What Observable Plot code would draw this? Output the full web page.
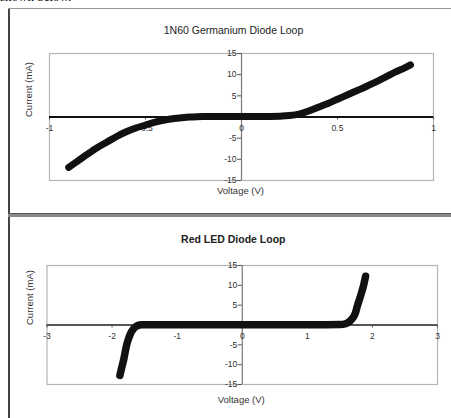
<!DOCTYPE html>
<html>
<head>
<meta charset="utf-8">
<script src="https://cdn.jsdelivr.net/npm/d3@7"></script>
<script src="https://cdn.jsdelivr.net/npm/@observablehq/plot@0.6"></script>
<style>
  html, body { margin: 0; padding: 0; background: #fff; }
  #wrap { position: relative; width: 451px; height: 418px; overflow: hidden; background: #fff; }
  .abs { position: absolute; }
  #chart1 { left: 0; top: 0; }
  #chart2 { left: 0; top: 218px; }
  #lead { left: 0; top: -11px; font: 13px "Liberation Serif", "Times New Roman", serif; color: #000; width: 57px; text-align: right; white-space: nowrap; }
  #bleft { left: 8px; top: 8px; width: 2px; height: 410px; background: #444; }
  #btop { left: 8px; top: 8px; width: 443px; height: 1px; background: #999; }
  #divider { left: 8px; top: 213px; width: 443px; height: 3px; background: #8a8a8a; border-top: 1px solid #555; }
</style>
</head>
<body>
<div id="wrap">
  <div id="lead" class="abs">shown below.</div>
  <div id="chart1" class="abs"></div>
  <div id="chart2" class="abs"></div>
  <div id="bleft" class="abs"></div>
  <div id="btop" class="abs"></div>
  <div id="divider" class="abs"></div>
</div>
<script>
// ---- Data ----
const geVoltage = [-0.90, -0.85, -0.80, -0.75, -0.70, -0.65, -0.60, -0.55, -0.50, -0.45, -0.40, -0.35, -0.30, -0.25, -0.20, -0.10, 0.00, 0.10, 0.20, 0.25, 0.30, 0.35, 0.40, 0.45, 0.50, 0.55, 0.60, 0.65, 0.70, 0.75, 0.80, 0.85, 0.88];
const geCurrent = [-11.9, -10.3, -8.7, -7.2, -5.9, -4.6, -3.5, -2.6, -1.9, -1.2, -0.7, -0.35, -0.1, 0.0, 0.1, 0.1, 0.1, 0.1, 0.2, 0.35, 0.7, 1.4, 2.3, 3.2, 4.2, 5.2, 6.2, 7.2, 8.3, 9.4, 10.6, 11.6, 12.3];

const ledVoltage = [-1.88, -1.85, -1.82, -1.80, -1.78, -1.75, -1.72, -1.69, -1.65, -1.60, -1.55, -1.00, -0.50, 0.00, 0.50, 1.00, 1.50, 1.60, 1.65, 1.70, 1.74, 1.77, 1.80, 1.83, 1.86, 1.895];
const ledCurrent = [-12.7, -10.6, -8.6, -6.9, -5.3, -3.6, -2.3, -1.4, -0.6, -0.1, 0.05, 0.05, 0.05, 0.05, 0.05, 0.05, 0.1, 0.4, 0.9, 1.8, 3.1, 4.9, 6.4, 8.0, 9.7, 12.3];

const yTicks = [-15, -10, -5, 0, 5, 10, 15];
const geXTicks = [-1, -0.5, 0, 0.5, 1];
const geXLabels = ["-1", "-0.5", "0", "0.5", "1"];
const ledXTicks = [-3, -2, -1, 0, 1, 2, 3];
const ledXLabels = ["-3", "-2", "-1", "0", "1", "2", "3"];

const titles = ["1N60 Germanium Diode Loop", "Red LED Diode Loop"];
const xTitle = "Voltage (V)";
const yTitle = "Current (mA)";

const FONT = '"Liberation Sans", Arial, sans-serif';

function makeChart(opts) {
  const pts = opts.xs.map((v, i) => ({v, c: opts.ys[i]}));
  const xt = opts.xTicks.map((v, i) => ({v, label: opts.xLabels[i]}));
  return Plot.plot({
    width: 451,
    height: opts.height,
    marginTop: opts.mt, marginBottom: opts.mb, marginLeft: opts.ml, marginRight: opts.mr,
    style: {fontFamily: FONT, background: "transparent", overflow: "visible"},
    x: {domain: opts.xDomain, axis: null},
    y: {domain: [-15, 15], axis: null},
    marks: [
      Plot.frame({stroke: "#b5b5b5", strokeWidth: 1.2}),
      Plot.ruleX([0], {stroke: "#777", strokeWidth: 1.2}),
      Plot.ruleY(yTicks, {y: d => d, x1: 0, x2: 0, insetLeft: -4, stroke: "#555", strokeWidth: 1}),
      Plot.ruleX(xt, {x: "v", y1: 0, y2: 0, insetBottom: -3, stroke: "#555", strokeWidth: 1}),
      Plot.text(yTicks, {x: 0, y: d => d, text: d => String(d), textAnchor: "end", dx: -5, fontSize: 8.5, fill: "#333"}),
      Plot.text(xt, {x: "v", y: 0, text: "label", dy: 11, fontSize: 8.5, fill: "#333"}),
      Plot.ruleY([0], {stroke: opts.xAxisColor, strokeWidth: opts.xAxisWidth}),
      Plot.line(pts, {x: "v", y: "c", stroke: "#111", strokeWidth: opts.sw, curve: "monotone-x", strokeLinecap: "round", strokeLinejoin: "round"}),
      Plot.text([opts.title], {frameAnchor: "top", dx: opts.tdx, dy: opts.tdy, fontSize: 10.5, fontWeight: opts.bold ? "bold" : "normal", fill: "#222", letterSpacing: opts.ls}),
      Plot.text([xTitle], {frameAnchor: "bottom", dx: -1, dy: opts.xtdy, fontSize: 9.5, fill: "#333", letterSpacing: 0.2}),
      Plot.text([yTitle], {frameAnchor: "left", dx: opts.ytdx, rotate: -90, fontSize: 9.5, fill: "#333", letterSpacing: 0.2})
    ]
  });
}

document.getElementById("chart1").append(makeChart({
  xs: geVoltage, ys: geCurrent, xTicks: geXTicks, xLabels: geXLabels,
  xDomain: [-1, 1], height: 212, mt: 53, mb: 32, ml: 49, mr: 18,
  title: titles[0], tdx: -8, tdy: -27, bold: false, ls: 0.45,
  xtdy: 13, ytdx: -21, sw: 7, xAxisColor: "#111", xAxisWidth: 2
}));

document.getElementById("chart2").append(makeChart({
  xs: ledVoltage, ys: ledCurrent, xTicks: ledXTicks, xLabels: ledXLabels,
  xDomain: [-3, 3], height: 200, mt: 47, mb: 34, ml: 46.5, mr: 14,
  title: titles[1], tdx: -9, tdy: -30, bold: true, ls: 0.5,
  xtdy: 18, ytdx: -17, sw: 7.5, xAxisColor: "#555", xAxisWidth: 1.8
}));
</script>
</body>
</html>
